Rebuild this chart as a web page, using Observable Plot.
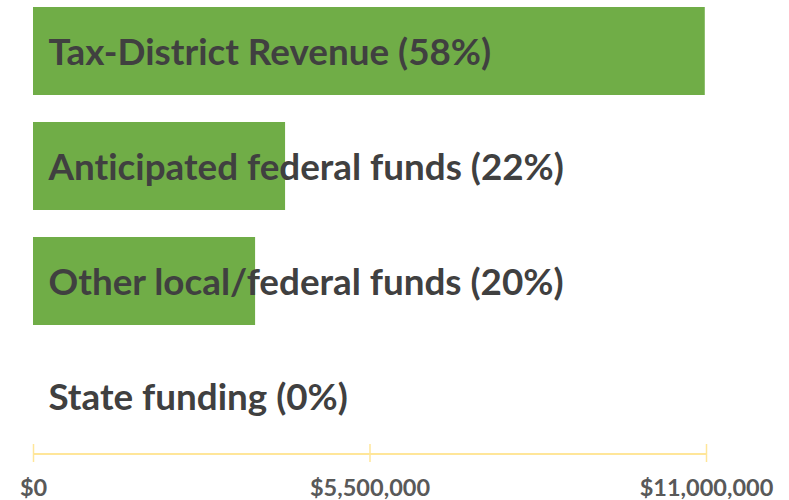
<!DOCTYPE html>
<html>
<head>
<meta charset="utf-8">
<script src="https://cdn.jsdelivr.net/npm/d3@7"></script>
<script src="https://cdn.jsdelivr.net/npm/@observablehq/plot@0.6"></script>
<style>
  html, body { margin: 0; padding: 0; background: #fff; }
  #chart svg { display: block; }
  #chart svg text { font-variant-ligatures: none; font-feature-settings: "liga" 0, "clig" 0; }
</style>
</head>
<body>
<div id="chart"></div>
<script>
const categories = ["Tax-District Revenue", "Anticipated federal funds", "Other local/federal funds", "State funding"];
const amounts = [10980000, 4120000, 3630000, 0];
const shares = [58, 22, 20, 0];
const tickValues = [0, 5500000, 11000000];

const data = categories.map((c, i) => ({
  category: c,
  amount: amounts[i],
  label: `${c} (${shares[i]}%)`
}));

const fmt = d => "$" + d3.format(",")(d);

const chart = Plot.plot({
  width: 789,
  height: 500,
  marginLeft: 33,
  marginRight: 83,
  marginTop: 2,
  marginBottom: 56,
  style: { background: "#fff" },
  x: { domain: [0, 11000000], axis: null, label: null },
  y: { domain: categories, paddingInner: 0.235, paddingOuter: 0.039, axis: null, label: null },
  marks: [
    Plot.barX(data, { y: "category", x: "amount", fill: "#70AD47" }),
    Plot.text(data, {
      y: "category", x: 0, text: "label", textAnchor: "start", dx: 15, dy: 2,
      fill: "#404040", fontSize: 36.8, fontWeight: "bold", fontFamily: "Lato"
    }),
    Plot.ruleY(["State funding"], { x1: 0, x2: 11000000, dy: 57.5, stroke: "#FFE699", strokeWidth: 2 }),
    Plot.axisX({
      ticks: tickValues, tickFormat: fmt, tickSize: 18, tickPadding: 17, label: null,
      stroke: "#FFE699", strokeWidth: 1.5,
      fill: "#595959", fontSize: 23.5, fontWeight: "bold", fontFamily: "Lato"
    })
  ]
});
document.getElementById("chart").appendChild(chart);
</script>
</body>
</html>
